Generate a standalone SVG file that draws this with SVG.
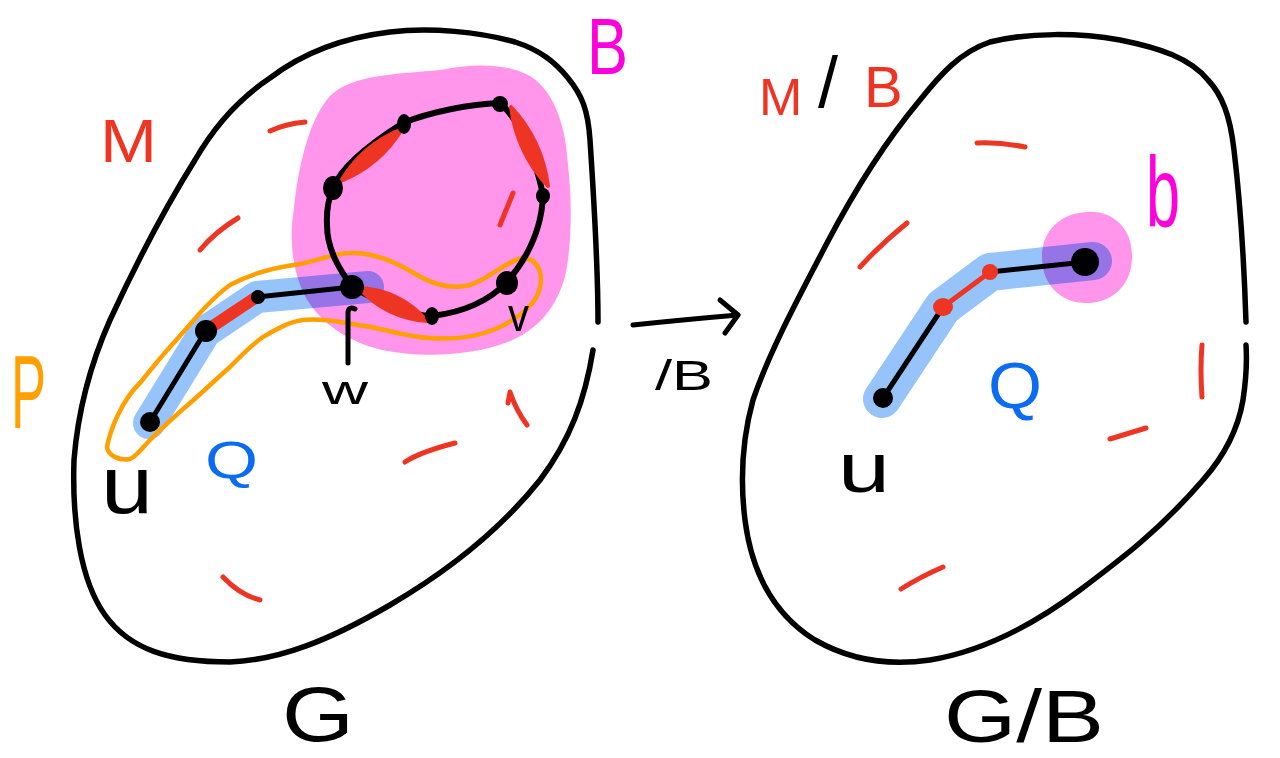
<svg xmlns="http://www.w3.org/2000/svg" width="1280" height="758" viewBox="0 0 1280 758">
  <style>
    .outline { fill: none; stroke: #000; stroke-width: 5.5; stroke-linecap: round; stroke-linejoin: round; }
    .edge { fill: none; stroke: #000; stroke-width: 5; stroke-linecap: round; stroke-linejoin: round; }
    .cycle { fill: none; stroke: #000; stroke-width: 6; stroke-linecap: round; stroke-linejoin: round; }
    .dash { fill: none; stroke: #EE3524; stroke-width: 5; stroke-linecap: round; stroke-linejoin: round; }
    .match { fill: #EE3524; stroke: #EE3524; stroke-width: 4; stroke-linejoin: round; }
    .node { fill: #000; }
    .blob { fill: #FF96EC; }
    .band { fill: none; stroke: #96C4FA; stroke-linecap: round; stroke-linejoin: round; mix-blend-mode: multiply; }
    .loop { fill: none; stroke: #FF9F00; stroke-width: 4.5; stroke-linejoin: round; }
    .lbl { font-family: "Liberation Sans", Arial, sans-serif; }
  </style>

  <rect width="1280" height="758" fill="#fff"/>

  <!-- graph G (left) -->
  <g id="graph-G">
    <path class="outline" d="M598,322 C598,270 594,200 590,140 C588,110 582,95 568,78 C555,62 540,50 515,42 C480,32 430,27 390,32 C340,38 300,55 270,78 C240,98 215,125 195,160 C170,200 140,255 110,320 C90,365 78,410 74,460 C72,520 80,580 105,615 C130,650 170,662 230,662 C280,660 330,640 390,605 C450,570 500,530 540,480 C570,440 585,400 593,350"/>
  </g>

  <!-- blossom B -->
  <g id="blossom-B">
    <path class="blob" d="M330,96 C352,74 400,74 440,70 C470,64 505,62 530,76 C556,92 566,130 568,165 C572,200 572,240 566,272 C558,308 536,332 505,343 C470,356 420,358 382,350 C348,342 318,322 304,294 C290,264 290,232 294,208 C298,170 308,120 330,96 Z"/>
  </g>

  <!-- alternating path Q in G -->
  <g id="path-Q-left">
    <path class="band" stroke-width="32" d="M149,423 L205,332 L257,297 L368,287"/>
  </g>

  <!-- path P -->
  <g id="path-P">
    <path class="loop" d="M107,447 C110,430 122,400 140,383 C152,368 160,358 170,347 C182,334 192,322 200,313 C210,302 220,292 230,285 C250,274 270,268 300,264 C320,260 335,253 350,253 C372,252 395,262 412,272 C430,283 448,290 470,285 C490,278 505,262 522,258 C540,258 546,278 536,298 C527,312 514,320 500,327 C480,336 460,340 430,338 C405,337 390,330 365,326 C340,322 320,318 303,320 C288,322 275,330 263,337 C250,346 240,357 230,367 C215,380 203,392 190,403 C175,416 162,428 150,440 C142,448 137,456 130,459 C120,461 108,456 107,447 Z"/>
  </g>

  <!-- unmatched / matched edges of M in G -->
  <g id="matching-M-left">
    <path class="dash" d="M270,131 Q285,124 305,122"/>
    <path class="dash" d="M200,250 Q215,232 238,218"/>
    <path class="dash" d="M500,225 L513,193"/>
    <path class="dash" d="M508,403 L510,392 Q516,410 527,425"/>
    <path class="dash" d="M405,462 Q420,452 455,443"/>
    <path class="dash" d="M223,577 Q240,595 260,600"/>
  </g>

  <!-- odd cycle of the blossom -->
  <g id="cycle">
    <path class="cycle" d="M352,287 C340,270 327,250 327,225 C326,205 330,195 333,188 C340,170 360,150 403,123 C430,112 470,104 500,103 C520,120 536,160 543,195 C542,225 530,255 507,282 C490,300 465,312 432,316 C405,315 375,300 352,287 Z"/>
    <path class="match" d="M341,181 Q380,165 402,129 Q362,145 341,181 Z"/>
    <path class="match" d="M511,107 Q542,140 548,186 Q517,153 511,107 Z"/>
    <path class="match" d="M359,288 Q386,318 427,321 Q400,290 359,288 Z"/>
    <ellipse class="node" cx="333" cy="188" rx="10" ry="12"/>
    <ellipse class="node" cx="404" cy="124" rx="7" ry="10"/>
    <ellipse class="node" cx="500" cy="104" rx="8" ry="8"/>
    <ellipse class="node" cx="543" cy="196" rx="7" ry="8"/>
    <ellipse class="node" cx="507" cy="283" rx="11" ry="12"/>
    <ellipse class="node" cx="432" cy="316" rx="7" ry="9"/>
  </g>

  <!-- stem of Q from u to w -->
  <g id="stem-left">
    <path class="edge" d="M150,422 L205,332"/>
    <path d="M207,330 L255,298" fill="none" stroke="#EE3524" stroke-width="12" stroke-linecap="round"/>
    <path class="edge" d="M257,297 L352,287"/>
    <circle class="node" cx="150" cy="422" r="10"/>
    <circle class="node" cx="206" cy="331" r="11"/>
    <circle class="node" cx="258" cy="297" r="7"/>
    <circle class="node" cx="352" cy="287" r="12"/>
    <!-- pointer from the label w to its vertex -->
    <path class="edge" d="M348,363 L348,312 Q349,306 355,309"/>
  </g>

  <!-- contraction arrow -->
  <g id="arrow">
    <path class="edge" d="M633,325 Q680,320 738,315"/>
    <path class="edge" d="M720,300 L738,315 L725,333"/>
  </g>

  <!-- graph G/B (right) -->
  <g id="graph-GB">
    <path class="outline" d="M1246,322 C1244,260 1240,200 1234,150 C1230,115 1222,95 1208,80 C1190,58 1160,48 1120,40 C1080,33 1030,32 990,42 C960,52 940,75 920,100 C895,130 860,180 827,243 C800,295 770,350 753,400 C742,440 740,480 745,520 C752,575 775,615 815,640 C850,660 890,666 930,660 C990,650 1040,620 1080,590 C1120,560 1160,530 1203,480 C1225,455 1238,430 1243,400 C1246,380 1247,360 1246,345"/>
  </g>

  <!-- contracted blossom b -->
  <g id="vertex-b">
    <path class="blob" d="M1087,212 C1112,210 1132,228 1132,255 C1133,282 1115,302 1088,303 C1062,304 1042,285 1042,258 C1041,232 1060,213 1087,212 Z"/>
  </g>

  <!-- path Q in G/B -->
  <g id="path-Q-right">
    <path class="band" stroke-width="38" d="M882,399 L943,307 L990,272 L1093,261"/>
    <path class="edge" stroke-width="4" d="M883,398 L943,307"/>
    <path class="dash" stroke-width="4" d="M943,307 L990,272"/>
    <path class="edge" d="M990,272 L1085,262"/>
    <circle class="node" cx="883" cy="398" r="10"/>
    <ellipse cx="943" cy="307" rx="10" ry="9" fill="#EE3524"/>
    <ellipse cx="990" cy="272" rx="8" ry="8" fill="#EE3524"/>
    <circle class="node" cx="1085" cy="262" r="14"/>
  </g>

  <g id="matching-MB-right">
    <path class="dash" d="M860,267 Q880,245 907,223"/>
    <path class="dash" d="M977,143 Q1000,142 1025,147"/>
    <path class="dash" d="M1202,345 Q1200,370 1202,397"/>
    <path class="dash" d="M1110,439 L1146,428"/>
    <path class="dash" d="M901,589 Q920,577 943,567"/>
  </g>

  <!-- labels -->
  <g id="labels">
    <text class="lbl" x="100" y="162" font-size="62" textLength="57" lengthAdjust="spacingAndGlyphs" fill="#EE3524">M</text>
    <text class="lbl" x="587" y="74" font-size="80" textLength="41" lengthAdjust="spacingAndGlyphs" fill="#FF00DC">B</text>
    <text class="lbl" x="11" y="428" font-size="104" textLength="35" lengthAdjust="spacingAndGlyphs" fill="#FF9F00">P</text>
    <text class="lbl" x="205" y="478" font-size="52" textLength="53" lengthAdjust="spacingAndGlyphs" fill="#0B6CF2">Q</text>
    <text class="lbl" x="101" y="513" font-size="82" textLength="52" lengthAdjust="spacingAndGlyphs" fill="#000">u</text>
    <text class="lbl" x="322" y="404" font-size="40" textLength="46" lengthAdjust="spacingAndGlyphs" fill="#000">w</text>
    <text class="lbl" x="508" y="331" font-size="46" textLength="21" lengthAdjust="spacingAndGlyphs" fill="#000">v</text>
    <text class="lbl" x="282" y="741" font-size="78" textLength="72" lengthAdjust="spacingAndGlyphs" fill="#000">G</text>
    <text class="lbl" x="655" y="390" font-size="42" textLength="58" lengthAdjust="spacingAndGlyphs" fill="#000">/B</text>
    <text class="lbl" y="115" fill="#EE3524"><tspan x="759" font-size="52">M</tspan><tspan x="818" y="107" font-size="72" fill="#000">/</tspan><tspan x="864" y="107" font-size="58">B</tspan></text>
    <text class="lbl" x="1146" y="227" font-size="100" textLength="34" lengthAdjust="spacingAndGlyphs" fill="#FF00DC">b</text>
    <text class="lbl" x="988" y="408" font-size="64" textLength="54" lengthAdjust="spacingAndGlyphs" fill="#0B6CF2">Q</text>
    <text class="lbl" x="838" y="492" font-size="70" textLength="52" lengthAdjust="spacingAndGlyphs" fill="#000">u</text>
    <text class="lbl" x="944" y="742" font-size="74" textLength="160" lengthAdjust="spacingAndGlyphs" fill="#000">G/B</text>
  </g>
</svg>
